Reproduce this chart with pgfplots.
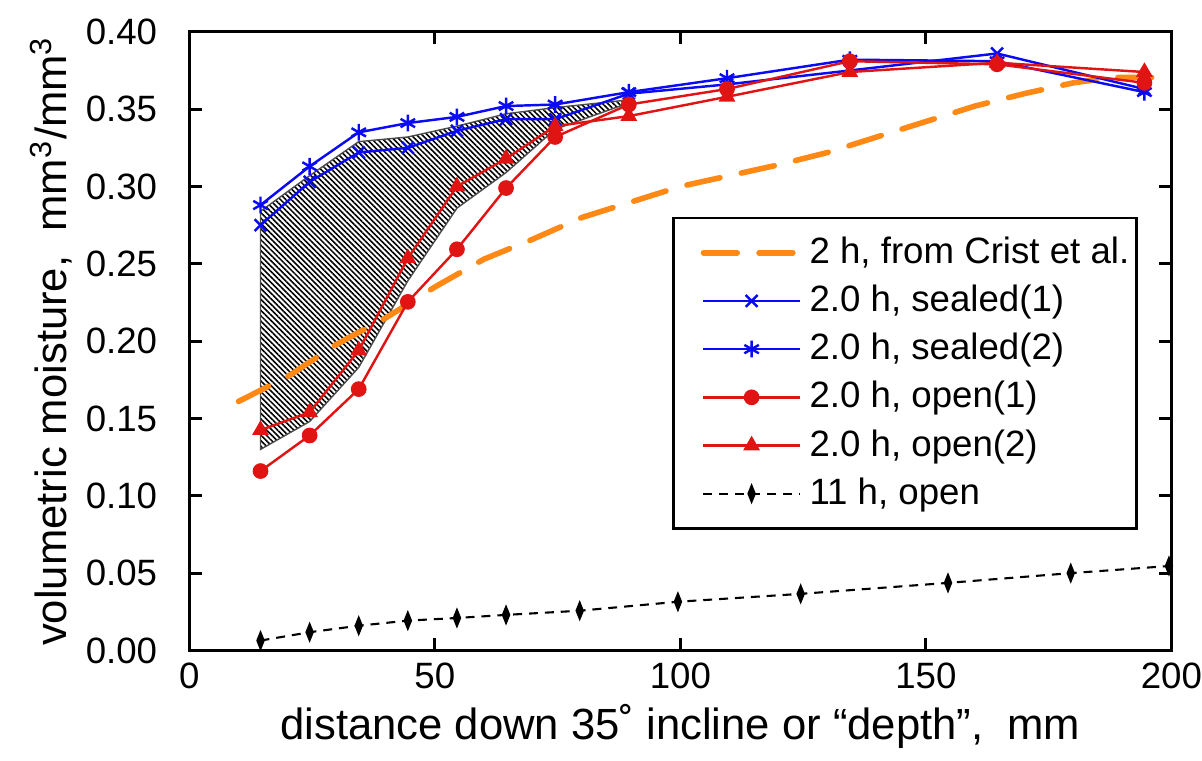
\documentclass[border=0pt]{standalone}
\usepackage{fontspec}
\setmainfont{Liberation Sans}
\usepackage{pgfplots}
\pgfplotsset{compat=1.18}
\usetikzlibrary{patterns.meta}

\definecolor{cristorange}{RGB}{255,137,20}
\definecolor{sealblue}{RGB}{10,10,245}
\definecolor{openred}{RGB}{225,20,20}

\begin{document}
\begin{tikzpicture}
\begin{axis}[
    width=98.9mm, height=62.3mm, scale only axis,
    xmin=0, xmax=200, ymin=0, ymax=0.4,
    xtick={0,50,100,150,200},
    ytick={0,0.05,0.1,0.15,0.2,0.25,0.3,0.35,0.4},
    scaled y ticks=false,
    tick align=inside, xtick pos=both, ytick pos=both,
    major tick length=3.5pt,
    axis line style={line width=0.9pt},
    every tick/.style={black, line width=0.9pt},
    /pgf/number format/assume math mode=true,
    tick label style={font=\fontsize{10.5}{12}\selectfont},
    xticklabel style={inner xsep=0pt},
    yticklabel style={xshift=-2.0mm, inner ysep=1.9mm,
        /pgf/number format/.cd, fixed, fixed zerofill, precision=2},
    label style={font=\fontsize{12.5}{15}\selectfont},
    xlabel={distance down 35˚ incline or “depth”,\ \ mm},
    ylabel={volumetric moisture,\ \ mm\textsuperscript{3}/mm\textsuperscript{3}},
    xlabel style={at={(axis description cs:0.5,-0.1236)}, anchor=center},
    ylabel style={at={(axis description cs:-0.141,0.5)}, anchor=center, inner ysep=3mm},
    legend style={at={(0.9656,0.7014)}, anchor=north east, draw=black, line width=0.8pt,
        fill=white, font=\fontsize{10.5}{12.6}\selectfont, row sep=0.7pt,
        inner xsep=0mm, inner ysep=1.2mm},
    legend cell align=left,
    legend image code/.code={\path (0mm,0mm);
        \draw[mark repeat=2,mark phase=2,#1]
        plot coordinates {(2.7mm,0mm) (7.55mm,0mm) (12.4mm,0mm)};},
]
% spread between sealed and open runs
\addplot[forget plot, draw=black!70, line width=0.4pt,
    pattern={Lines[angle=-45,distance=1.1pt,line width=0.45pt]}, pattern color=black]
    coordinates {(14.5,0.284) (24.5,0.307) (34.5,0.329) (44.5,0.332) (54.5,0.339)
    (64.5,0.347) (74.5,0.351) (89.5,0.356) (89.5,0.354) (74.5,0.337) (64.5,0.309)
    (54.5,0.286) (44.5,0.239) (34.5,0.183) (24.5,0.148) (14.5,0.130)} -- cycle;

\addplot[cristorange, line width=1.6pt, dash pattern=on 3.4mm off 2.2mm, line cap=round]
    coordinates {(10,0.161) (20,0.177) (30,0.198) (40,0.215) (50,0.235) (60,0.253)
    (70,0.266) (80,0.280) (90,0.290) (100,0.300) (110,0.307) (120,0.314) (130,0.322)
    (140,0.332) (150,0.342) (160,0.352) (170,0.360) (180,0.367) (188,0.3705) (199,0.3705)};
\addlegendentry{2 h, from Crist et al.}

\addplot[sealblue, line width=0.7pt, mark=x, mark size=2.4pt]
    coordinates {(14.5,0.275) (24.5,0.303) (34.5,0.322) (44.5,0.325) (54.5,0.336)
    (64.5,0.3435) (74.5,0.3435) (89.5,0.360) (109.5,0.366) (134.5,0.375)
    (164.5,0.386) (194.5,0.363)};
\addlegendentry{2.0 h, sealed(1)}

\addplot[sealblue, line width=0.7pt, mark=asterisk, mark size=2.4pt]
    coordinates {(14.5,0.288) (24.5,0.313) (34.5,0.335) (44.5,0.341) (54.5,0.345)
    (64.5,0.352) (74.5,0.353) (89.5,0.361) (109.5,0.370) (134.5,0.382)
    (164.5,0.381) (194.5,0.361)};
\addlegendentry{2.0 h, sealed(2)}

\addplot[openred, line width=0.7pt, mark=*, mark size=1.9pt]
    coordinates {(14.5,0.116) (24.5,0.139) (34.5,0.169) (44.5,0.2254) (54.5,0.2594)
    (64.5,0.299) (74.5,0.332) (89.5,0.353) (109.5,0.363) (134.5,0.381)
    (164.5,0.379) (194.5,0.367)};
\addlegendentry{2.0 h, open(1)}

\addplot[openred, line width=0.7pt, mark=triangle*, mark size=2.1pt]
    coordinates {(14.5,0.1425) (24.5,0.154) (34.5,0.194) (44.5,0.2536) (54.5,0.300)
    (64.5,0.318) (74.5,0.339) (89.5,0.3455) (109.5,0.358) (134.5,0.374)
    (164.5,0.380) (194.5,0.374)};
\addlegendentry{2.0 h, open(2)}

\addplot[black, line width=0.6pt, dash pattern=on 0.9mm off 0.7mm,
    mark=diamond*, mark size=1.6pt, mark options={solid, xscale=0.75, yscale=1.4}]
    coordinates {(14.5,0.0064) (24.5,0.0118) (34.5,0.016) (44.5,0.0193) (54.5,0.021)
    (64.5,0.023) (79.5,0.0257) (99.5,0.0315) (124.5,0.0366) (154.5,0.0437)
    (179.5,0.050) (199.5,0.0546)};
\addlegendentry{11 h, open}
\end{axis}
\end{tikzpicture}
\end{document}
